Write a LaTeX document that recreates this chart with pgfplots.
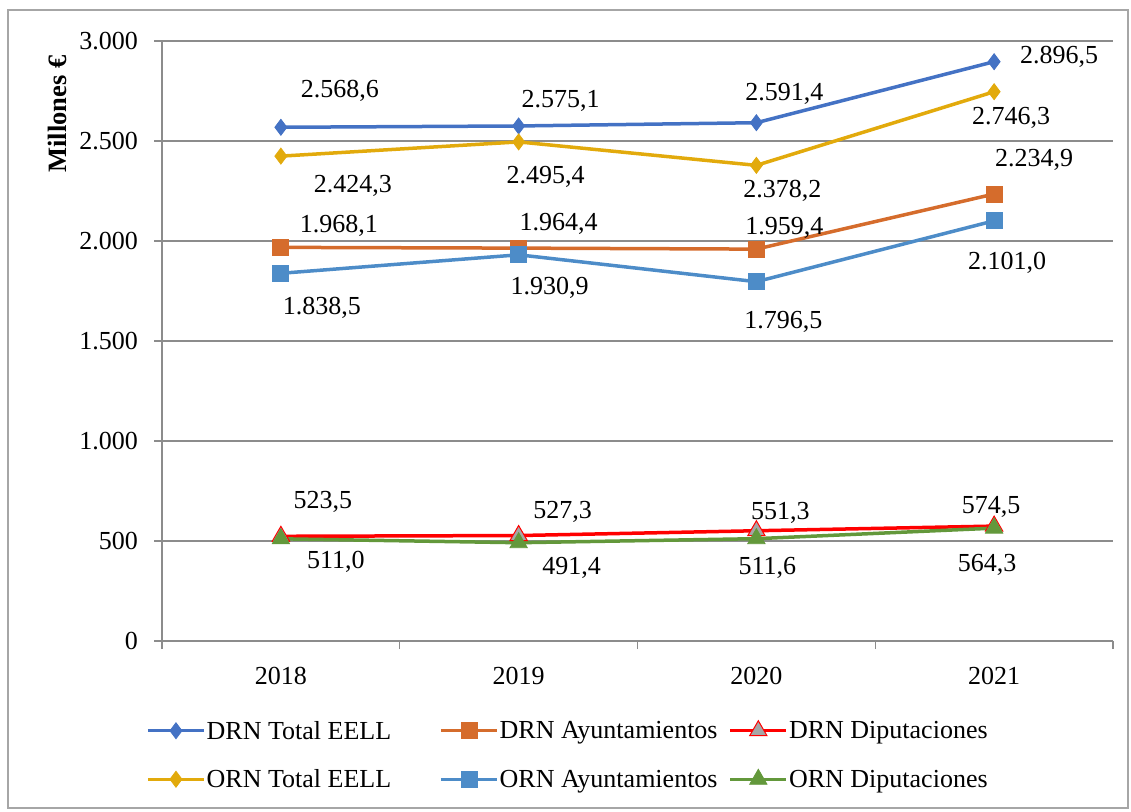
\documentclass[border=0pt]{standalone}
\usepackage{pgfplots}
\pgfplotsset{compat=1.18}
\usepackage{fontspec}
\setmainfont{Liberation Serif}
\definecolor{cDT}{HTML}{4472C4}
\definecolor{cOT}{HTML}{E2AA0C}
\definecolor{cDA}{HTML}{D56C2C}
\definecolor{cOA}{HTML}{4D8CC8}
\definecolor{cDD}{HTML}{FF0000}
\definecolor{cOD}{HTML}{63983B}
\definecolor{axgray}{HTML}{8C8C8C}
\begin{document}
\begin{tikzpicture}[font=\fontsize{26}{31}\selectfont, x=1pt, y=1pt]
\useasboundingbox (0,0) rectangle (1131,811);
\draw[color=gray!70, line width=1.2pt] (8,3) rectangle (1128,801);
\begin{axis}[
  at={(162pt,170pt)}, anchor=south west,
  scale only axis, width=951pt, height=600pt,
  xmin=-0.5, xmax=3.5, ymin=0, ymax=3000,
  xtick={-0.5,0.5,1.5,2.5,3.5},
  x tick label as interval,
  xticklabels={2018,2019,2020,2021},
  ytick={0,500,1000,1500,2000,2500,3000},
  yticklabels={0,500,1.000,1.500,2.000,2.500,3.000},
  axis x line*=bottom, axis y line*=left,
  axis line style={draw=axgray, line width=1.2pt},
  ymajorgrids, grid style={draw=axgray, line width=1.2pt},
  tick style={draw=axgray, line width=1.2pt},
  tick align=outside, major tick length=8pt,
  xticklabel style={inner sep=0pt, anchor=north, yshift=-18pt},
  yticklabel style={inner sep=0pt, anchor=east, xshift=-16pt},
  ylabel={\fontsize{26.5}{31}\selectfont\bfseries Millones €},
  ylabel style={at={(axis description cs:-0.110,0.878)}, anchor=center},
  clip=false,
  legend columns=3,
  legend style={at={(axis description cs:-0.0168,-0.19)}, anchor=west, draw=none, fill=none, inner sep=0pt,
    nodes={inner sep=1pt, anchor=west}, row sep=27pt,
    /tikz/column 2/.style={column sep=47pt}, /tikz/column 4/.style={column sep=10pt}},
  legend cell align=left,
  legend image code/.code={\draw[mark repeat=2,mark phase=2] plot coordinates {(0pt,0pt) (28pt,0pt) (56pt,0pt)};},
]
\addplot[color=cDT, line width=3.5pt, mark=diamond*, mark size=8pt, mark options={fill=cDT, draw=cDT, line width=0.8pt, solid}]
  coordinates {(0,2568.6) (1,2575.1) (2,2591.4) (3,2896.5)};
\addlegendentry{DRN Total EELL}
\addplot[color=cDA, line width=3.5pt, mark=square*, mark size=8pt, mark options={fill=cDA, draw=cDA, line width=0.8pt, solid}]
  coordinates {(0,1968.1) (1,1964.4) (2,1959.4) (3,2234.9)};
\addlegendentry{DRN Ayuntamientos}
\addplot[color=cDD, line width=3.5pt, mark=triangle*, mark size=10pt, mark options={fill=gray!70, draw=cDD, line width=1pt, solid}]
  coordinates {(0,523.5) (1,527.3) (2,551.3) (3,574.5)};
\addlegendentry{DRN Diputaciones}
\addplot[color=cOT, line width=3.5pt, mark=diamond*, mark size=8pt, mark options={fill=cOT, draw=cOT, line width=0.8pt, solid}]
  coordinates {(0,2424.3) (1,2495.4) (2,2378.2) (3,2746.3)};
\addlegendentry{ORN Total EELL}
\addplot[color=cOA, line width=3.5pt, mark=square*, mark size=8pt, mark options={fill=cOA, draw=cOA, line width=0.8pt, solid}]
  coordinates {(0,1838.5) (1,1930.9) (2,1796.5) (3,2101.0)};
\addlegendentry{ORN Ayuntamientos}
\addplot[color=cOD, line width=3.5pt, mark=triangle*, mark size=10pt, mark options={fill=cOD, draw=cOD, line width=0.8pt, solid}]
  coordinates {(0,511.0) (1,491.4) (2,511.6) (3,564.3)};
\addlegendentry{ORN Diputaciones}
% data labels
\node[xshift=59pt,yshift=36pt] at (axis cs:0,2568.6) {2.568,6};
\node[xshift=42pt,yshift=25pt] at (axis cs:1,2575.1) {2.575,1};
\node[xshift=28pt,yshift=29pt] at (axis cs:2,2591.4) {2.591,4};
\node[xshift=65pt,yshift=5pt] at (axis cs:3,2896.5) {2.896,5};
\node[xshift=72pt,yshift=-30pt] at (axis cs:0,2424.3) {2.424,3};
\node[xshift=27pt,yshift=-35pt] at (axis cs:1,2495.4) {2.495,4};
\node[xshift=26pt,yshift=-26pt] at (axis cs:2,2378.2) {2.378,2};
\node[xshift=17pt,yshift=-26pt] at (axis cs:3,2746.3) {2.746,3};
\node[xshift=58pt,yshift=22pt] at (axis cs:0,1968.1) {1.968,1};
\node[xshift=40pt,yshift=24pt] at (axis cs:1,1964.4) {1.964,4};
\node[xshift=28pt,yshift=21pt] at (axis cs:2,1959.4) {1.959,4};
\node[xshift=40pt,yshift=34pt] at (axis cs:3,2234.9) {2.234,9};
\node[xshift=41pt,yshift=-35pt] at (axis cs:0,1838.5) {1.838,5};
\node[xshift=31pt,yshift=-33pt] at (axis cs:1,1930.9) {1.930,9};
\node[xshift=27pt,yshift=-40pt] at (axis cs:2,1796.5) {1.796,5};
\node[xshift=13pt,yshift=-42pt] at (axis cs:3,2101.0) {2.101,0};
\node[xshift=42pt,yshift=34pt] at (axis cs:0,523.5) {523,5};
\node[xshift=44pt,yshift=24pt] at (axis cs:1,527.3) {527,3};
\node[xshift=24pt,yshift=18pt] at (axis cs:2,551.3) {551,3};
\node[xshift=-3pt,yshift=19pt] at (axis cs:3,574.5) {574,5};
\node[xshift=55pt,yshift=-23pt] at (axis cs:0,511.0) {511,0};
\node[xshift=53pt,yshift=-25pt] at (axis cs:1,491.4) {491,4};
\node[xshift=11pt,yshift=-29pt] at (axis cs:2,511.6) {511,6};
\node[xshift=-7pt,yshift=-37pt] at (axis cs:3,564.3) {564,3};
\end{axis}
\end{tikzpicture}
\end{document}
